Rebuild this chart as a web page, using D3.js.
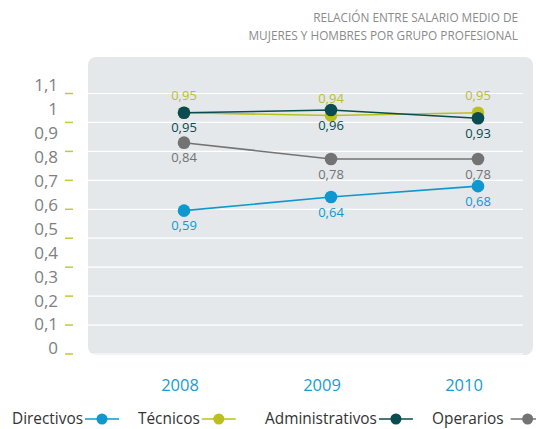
<!DOCTYPE html>
<html>
<head>
<meta charset="utf-8">
<script src="https://cdn.jsdelivr.net/npm/d3@7/dist/d3.min.js"></script>
<style>
  html, body { margin: 0; padding: 0; background: #ffffff; }
  svg { display: block; font-family: "Open Sans", "Noto Sans", sans-serif; }
</style>
</head>
<body>
<svg id="chart" width="536" height="429"></svg>
<script>
// Salary ratio (women / men) by professional group
const years = ["2008", "2009", "2010"];
const directivos = [0.59, 0.64, 0.68];
const tecnicos = [0.95, 0.94, 0.95];
const administrativos = [0.95, 0.96, 0.93];
const operarios = [0.84, 0.78, 0.78];
const yTickLabels = [0, 0.1, 0.2, 0.3, 0.4, 0.5, 0.6, 0.7, 0.8, 0.9, 1, 1.1];
const titleLines = ["RELACIÓN ENTRE SALARIO MEDIO DE", "MUJERES Y HOMBRES POR GRUPO PROFESIONAL"];

const series = [
  { name: "Directivos", values: directivos, color: "#0f98d0", labelPos: "below" },
  { name: "Técnicos", values: tecnicos, color: "#bcc01e", labelPos: "above" },
  { name: "Operarios", values: operarios, color: "#737373", labelPos: "below" },
  { name: "Administrativos", values: administrativos, color: "#0b4b52", labelPos: "below" }
];
const legendOrder = ["Directivos", "Técnicos", "Administrativos", "Operarios"];

const svg = d3.select("#chart");
const fmt = v => String(v).replace(".", ",");

// Title, right aligned
svg.append("g").selectAll("text").data(titleLines).join("text")
  .attr("x", 518).attr("y", (d, i) => 22 + i * 17.5)
  .attr("text-anchor", "end")
  .attr("font-size", 11.8).attr("fill", "#8a8a8a")
  .text(d => d);

// Plot panel
const panel = { x0: 88, x1: 533, y0: 57, y1: 355 };
svg.append("rect")
  .attr("x", panel.x0).attr("y", panel.y0)
  .attr("width", panel.x1 - panel.x0).attr("height", panel.y1 - panel.y0)
  .attr("rx", 8).attr("fill", "#e4e8eb");

// Guide lines and the small tick dashes on the left
const gridIdx = d3.range(10);
const gy = d3.scaleLinear().domain([0, 9]).range([93.5, 354]);
svg.append("g").selectAll("line").data(gridIdx).join("line")
  .attr("x1", panel.x0).attr("x2", 523)
  .attr("y1", d => gy(d)).attr("y2", d => gy(d))
  .attr("stroke", "#ffffff").attr("stroke-width", 1.2);
svg.append("g").selectAll("line").data(gridIdx).join("line")
  .attr("x1", 65).attr("x2", 73)
  .attr("y1", d => gy(d)).attr("y2", d => gy(d))
  .attr("stroke", "#c4c83a").attr("stroke-width", 1.5);

// Value axis labels
const yLab = d3.scaleLinear().domain([0, 1.1]).range([348.5, 85]);
svg.append("g").selectAll("text").data(yTickLabels).join("text")
  .attr("x", 58).attr("y", d => yLab(d))
  .attr("dy", "0.35em")
  .attr("text-anchor", "end")
  .attr("font-size", 17).attr("fill", "#808080")
  .text(d => fmt(d));

// Data scales
const x = d3.scalePoint().domain(years).range([184, 478]);
const y = d3.scaleLinear().domain([0, 1.1]).range([371, 72]);

// Year labels
const xLab = d3.scalePoint().domain(years).range([180, 464]);
svg.append("g").selectAll("text").data(years).join("text")
  .attr("x", d => xLab(d)).attr("y", 385)
  .attr("dy", "0.35em")
  .attr("text-anchor", "middle")
  .attr("font-size", 16.5).attr("fill", "#1a9ad6")
  .text(d => d);

// Series lines, markers and value labels
const line = d3.line().x((d, i) => x(years[i])).y(d => y(d));
const seriesG = svg.append("g").selectAll("g").data(series).join("g");
seriesG.append("path")
  .attr("d", s => line(s.values))
  .attr("fill", "none").attr("stroke", s => s.color).attr("stroke-width", 1.6);
seriesG.selectAll("circle").data(s => s.values.map((v, i) => ({ v, i, s }))).join("circle")
  .attr("cx", d => x(years[d.i])).attr("cy", d => y(d.v))
  .attr("r", 6.3).attr("fill", d => d.s.color);
seriesG.selectAll("text").data(s => s.values.map((v, i) => ({ v, i, s }))).join("text")
  .attr("x", d => x(years[d.i]))
  .attr("y", d => y(d.v) + (d.s.labelPos === "above" ? -17 : 15))
  .attr("dy", "0.35em")
  .attr("text-anchor", "middle")
  .attr("font-size", 13).attr("fill", d => d.s.color)
  .text(d => fmt(d.v));

// Legend
const legendX = { "Directivos": 12, "Técnicos": 138, "Administrativos": 265, "Operarios": 432 };
const legendSeries = legendOrder.map(n => series.find(s => s.name === n));
const lg = svg.append("g").selectAll("g").data(legendSeries).join("g")
  .attr("transform", s => `translate(${legendX[s.name]},419)`);
lg.append("text")
  .attr("x", 0).attr("y", 0).attr("dy", "0.35em")
  .attr("font-size", 15.4).attr("fill", "#333333")
  .text(s => s.name);
lg.each(function (s) {
  const g = d3.select(this);
  const w = g.select("text").node().getComputedTextLength();
  const gap = s.name === "Operarios" ? 7 : 2;
  g.append("line")
    .attr("x1", w + gap).attr("x2", w + gap + 34)
    .attr("y1", 0).attr("y2", 0)
    .attr("stroke", s.color).attr("stroke-width", 1.6);
  g.append("circle")
    .attr("cx", w + gap + 17).attr("cy", 0).attr("r", 5.5)
    .attr("fill", s.color);
});
</script>
</body>
</html>
